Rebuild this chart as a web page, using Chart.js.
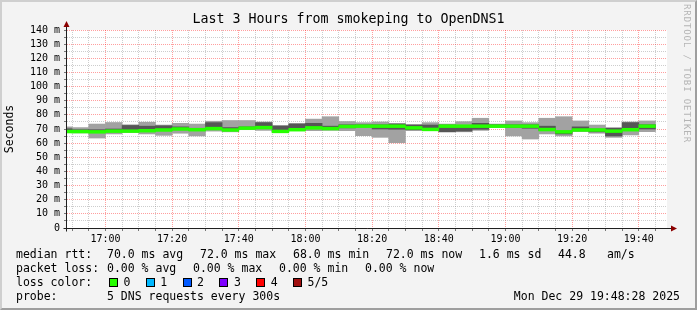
<!DOCTYPE html>
<html>
<head>
<meta charset="utf-8">
<script src="https://cdn.jsdelivr.net/npm/chart.js@4.4.1/dist/chart.umd.min.js"></script>
<style>
  html, body { margin: 0; padding: 0; background: #f3f3f3; }
  #wrap { position: relative; width: 697px; height: 310px; overflow: hidden; }
  #frame { position: absolute; left: 0; top: 0; width: 697px; height: 310px; box-sizing: border-box;
           border-style: solid; border-width: 2px; border-color: #cfcfcf #9e9e9e #9e9e9e #cfcfcf; pointer-events: none; }
  .t { position: absolute; font-family: 'DejaVu Sans Mono', monospace; font-size: 11.5px; line-height: 14px; color: #000; white-space: pre; }
  .box { position: absolute; width: 7px; height: 7px; border: 1px solid #000; }
  #titulo { position: absolute; left: 0; width: 697px; top: 10px; text-align: center;
            font-family: 'DejaVu Sans Mono', monospace; font-size: 13.3px; line-height: 18px; color: #000; white-space: pre; }
  #mark { position: absolute; left: 682px; top: 4px; writing-mode: vertical-rl; font-family: 'DejaVu Sans Mono', monospace;
          font-size: 9px; letter-spacing: 0.9px; color: #b4b4b4; white-space: pre; }
</style>
</head>
<body>
<div id="wrap">
  <canvas id="grafico" width="697" height="310"></canvas>
  <div id="titulo"></div>
  <div id="leyenda"></div>
  <div id="mark">RRDTOOL / TOBI OETIKER</div>
  <div id="frame"></div>
</div>
<script>
// inicio de cada paso de 5 minutos
const slotStart = ["16:45","16:50","16:55","17:00","17:05","17:10","17:15","17:20","17:25","17:30","17:35","17:40",
                   "17:45","17:50","17:55","18:00","18:05","18:10","18:15","18:20","18:25","18:30","18:35","18:40",
                   "18:45","18:50","18:55","19:00","19:05","19:10","19:15","19:20","19:25","19:30","19:35","19:40"];
// rtt de los 5 pings ordenados (ms)
const pingMin  = [67.5,67.2,63.6,66.5,67.5,66.5,65.5,67.0,65.1,68.5,68.0,69.5,69.0,67.5,68.8,68.8,69.0,68.8,65.3,64.1,60.3,68.8,68.8,67.8,
                  68.0,69.0,71.0,65.1,62.9,66.5,65.1,68.1,67.0,64.1,65.8,68.1];
const pingLow  = [68.0,67.8,67.8,68.2,68.2,68.5,69.0,69.5,69.0,70.0,69.0,70.3,70.8,68.0,69.3,70.5,70.0,70.8,71.5,70.0,69.8,69.5,69.5,68.1,
                  68.5,69.8,71.5,71.0,70.5,69.0,66.5,69.0,68.0,65.1,69.0,70.0];
const median   = [68.2,68.2,68.0,68.5,68.5,68.8,69.3,70.0,69.5,70.3,69.3,70.6,71.0,68.3,69.5,70.8,70.3,71.8,72.0,72.0,72.0,70.8,69.7,72.0,
                  72.0,72.0,72.0,72.0,72.0,69.6,68.0,69.3,69.3,68.5,69.5,72.0];
const pingHigh = [70.2,69.5,69.5,70.0,72.5,72.0,72.3,71.5,70.5,74.5,71.0,71.5,74.5,72.0,73.5,74.0,72.0,73.0,73.0,73.0,73.5,72.8,72.8,72.8,
                  72.5,74.0,73.0,73.0,73.0,72.0,68.5,71.5,70.0,70.5,74.5,73.0];
const pingMax  = [71.5,71.0,73.5,74.6,73.0,74.8,72.8,74.0,73.5,75.5,76.0,76.0,75.0,72.6,74.0,77.0,78.7,75.3,74.5,75.0,74.0,73.2,74.5,73.5,
                  75.2,77.6,73.5,75.7,74.5,77.6,78.7,75.7,72.8,71.0,75.0,75.7];

const titulo = "Last 3 Hours from smokeping to OpenDNS1";
const finGrafico = "19:48:28";
const medianStats = ["70.0 ms avg", "72.0 ms max", "68.0 ms min", "72.0 ms now", "1.6 ms sd", "44.8", "am/s"];
const lossStats = ["0.00 % avg", "0.00 % max", "0.00 % min", "0.00 % now"];
const lossLabels = ["0", "1", "2", "3", "4", "5/5"];
const lossColors = ["#26ff00", "#00b8ff", "#0059ff", "#7e00ff", "#ff0000", "#a01010"];
const probeText = "5 DNS requests every 300s";
const fechaText = "Mon Dec 29 19:48:28 2025";

function aMinutos(hhmm) {
    let p = hhmm.split(":").map(Number);
    return p[0] * 60 + p[1] + (p[2] || 0) / 60;
}
function aHora(min) {
    let h = Math.floor(min / 60), m = Math.round(min % 60);
    return String(h).padStart(2, "0") + ":" + String(m).padStart(2, "0");
}

let xMax = aMinutos(finGrafico);
let xMin = xMax - 180;
let centros = slotStart.map(s => aMinutos(s) + 2.5);

function puntos(lo, hi) {
    return centros.map((x, i) => ({ x: x, y: [lo[i], hi[i]] }));
}

// fondo blanco del area de datos
const fondo = {
    id: "fondo",
    beforeDraw(chart) {
        let ctx = chart.ctx, a = chart.chartArea;
        ctx.save();
        ctx.fillStyle = "#ffffff";
        ctx.fillRect(a.left, a.top, a.right - a.left, a.bottom - a.top);
        ctx.restore();
    }
};

// ejes con flecha, como rrdtool
const ejes = {
    id: "ejes",
    afterDraw(chart) {
        let ctx = chart.ctx, a = chart.chartArea;
        let x0 = Math.round(a.left) - 0.5, y0 = Math.round(a.bottom) + 0.5;
        ctx.save();
        ctx.strokeStyle = "#1f1f1f";
        ctx.lineWidth = 1;
        ctx.beginPath();
        ctx.moveTo(x0, y0 + 3); ctx.lineTo(x0, a.top - 5);
        ctx.moveTo(x0 - 3, y0); ctx.lineTo(a.right + 5, y0);
        ctx.stroke();
        ctx.fillStyle = "#8b0000";
        ctx.beginPath();
        ctx.moveTo(x0 - 3, a.top - 3); ctx.lineTo(x0 + 3, a.top - 3); ctx.lineTo(x0, a.top - 9); ctx.closePath();
        ctx.fill();
        ctx.beginPath();
        ctx.moveTo(a.right + 4, y0 - 3); ctx.lineTo(a.right + 4, y0 + 3); ctx.lineTo(a.right + 10, y0); ctx.closePath();
        ctx.fill();
        ctx.restore();
    }
};

Chart.defaults.font.family = "'DejaVu Sans Mono', monospace";
Chart.defaults.color = "#000";

let chart = new Chart(document.getElementById("grafico"), {
    type: "bar",
    data: {
        datasets: [
            { label: "median", data: centros.map((x, i) => ({ x: x, y: [median[i] - 1.0, median[i] + 1.0] })), backgroundColor: lossColors[0] },
            { label: "smoke inner", data: puntos(pingLow, pingHigh), backgroundColor: "#565656" },
            { label: "smoke outer", data: puntos(pingMin, pingMax), backgroundColor: "#a2a2a2" }
        ]
    },
    options: {
        responsive: false,
        animation: false,
        devicePixelRatio: 1,
        layout: { padding: { left: 0, right: 30, top: 30, bottom: 0 } },
        datasets: {
            bar: { barPercentage: 1, categoryPercentage: 1, borderWidth: 0, grouped: false, clip: 0 }
        },
        plugins: {
            legend: { display: false },
            tooltip: { enabled: false },
            title: { display: false }
        },
        scales: {
            x: {
                type: "linear",
                offset: false,
                min: xMin,
                max: xMax,
                afterBuildTicks(scale) {
                    let t = [];
                    for (let m = Math.ceil(xMin / 5) * 5; m <= xMax; m += 5) t.push({ value: m });
                    scale.ticks = t;
                },
                afterFit(scale) { scale.height = 82; },
                ticks: {
                    autoSkip: false,
                    maxRotation: 0,
                    padding: 2,
                    font: { size: 10 },
                    callback: v => (v % 20 === 0 ? aHora(v) : "")
                },
                grid: {
                    offset: false,
                    color: c => (c.tick && c.tick.value % 20 === 0 ? "rgba(255,0,0,0.38)" : "rgba(130,130,130,0.4)"),
                    tickLength: 3,
                    tickColor: "#777"
                },
                border: { display: false, dash: [1, 1] }
            },
            y: {
                min: 0,
                max: 140,
                afterBuildTicks(scale) {
                    let t = [];
                    for (let v = 0; v <= 140; v += 5) t.push({ value: v });
                    scale.ticks = t;
                },
                afterFit(scale) { scale.width = 67; },
                ticks: {
                    autoSkip: false,
                    padding: 4,
                    font: { size: 10 },
                    callback: v => (v % 10 !== 0 ? "" : v === 0 ? "0" : v + " m")
                },
                grid: {
                    color: c => (c.tick && c.tick.value % 10 === 0 ? "rgba(255,0,0,0.38)" : "rgba(130,130,130,0.4)"),
                    tickLength: 3,
                    tickColor: "#777"
                },
                border: { display: false, dash: [1, 1] },
                title: {
                    display: true,
                    text: "Seconds",
                    color: "#000",
                    font: { size: 11.5 },
                    padding: { top: 3, bottom: 0 }
                }
            }
        }
    },
    plugins: [fondo, ejes]
});

document.getElementById("titulo").textContent = titulo;

// leyenda de texto debajo del grafico
let leyenda = document.getElementById("leyenda");
function texto(s, x, y, derecha) {
    let el = document.createElement("div");
    el.className = "t";
    el.textContent = s;
    el.style.top = (y - 7) + "px";
    if (derecha) el.style.right = x + "px"; else el.style.left = x + "px";
    leyenda.appendChild(el);
}
let posMedian = [107, 200, 293, 386, 479, 558, 607];
texto("median rtt:", 16, 254);
medianStats.forEach((s, i) => texto(s, posMedian[i], 254));
let posLoss = [107, 193, 279, 365];
texto("packet loss:", 16, 268);
lossStats.forEach((s, i) => texto(s, posLoss[i], 268));
texto("loss color:", 16, 282);
lossLabels.forEach((s, i) => {
    let bx = 109 + i * 36.8;
    let b = document.createElement("div");
    b.className = "box";
    b.style.left = bx + "px";
    b.style.top = "278px";
    b.style.background = lossColors[i];
    leyenda.appendChild(b);
    texto(s, bx + 14.5, 282);
});
texto("probe:", 16, 296);
texto(probeText, 107, 296);
texto(fechaText, 17, 296, true);
</script>
</body>
</html>
